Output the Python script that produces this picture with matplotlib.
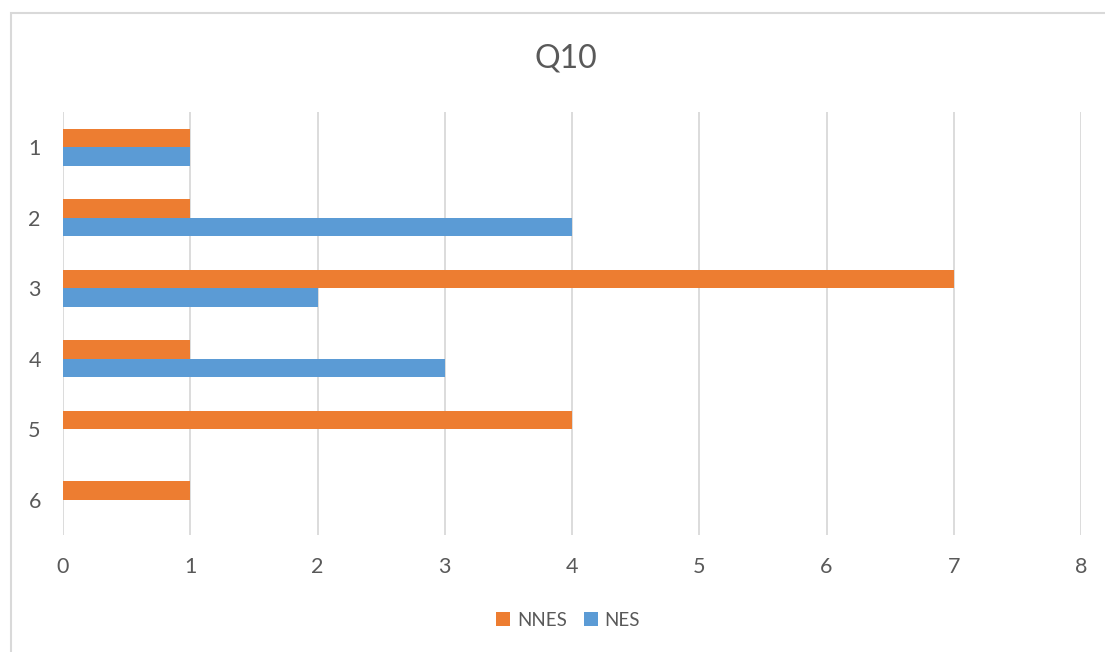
import matplotlib.pyplot as plt
import numpy as np
from matplotlib.patches import Rectangle

plt.rcParams['font.family'] = ['Lato', 'DejaVu Sans']

categories = ['1', '2', '3', '4', '5', '6']
nnes = [1, 1, 7, 1, 4, 1]
nes = [1, 4, 2, 3, 0, 0]
x_ticks = [0, 1, 2, 3, 4, 5, 6, 7, 8]

text_color = '#595959'
orange = '#ED7D31'
blue = '#5B9BD5'

fig = plt.figure(figsize=(11.05, 6.52), dpi=100)
ax = fig.add_axes([63 / 1105, 1 - 535 / 652, (1081 - 63) / 1105, (535 - 112) / 652])

# chart border (Excel-like)
fig.patches.append(Rectangle((11 / 1105, -0.1), 1.2, 1 - 13 / 652 + 0.1,
                             transform=fig.transFigure, fill=False,
                             edgecolor='#d9d9d9', linewidth=1.5))

y = np.arange(1, len(categories) + 1)
h = 0.262
ax.barh(y - h / 2, nnes, height=h, color=orange, label='NNES', zorder=3)
ax.barh(y + h / 2, nes, height=h, color=blue, label='NES', zorder=3)

ax.set_ylim(6.5, 0.5)
ax.set_xlim(0, 8)
ax.set_yticks(y)
ax.set_yticklabels(categories)
ax.set_xticks(x_ticks)
ax.tick_params(length=0, labelsize=15.5, labelcolor=text_color)
ax.tick_params(axis='x', pad=16)
ax.tick_params(axis='y', pad=16)
ax.grid(axis='x', color='#d9d9d9', linewidth=1.3, zorder=0)
for s in ax.spines.values():
    s.set_visible(False)

fig.text(0.512, 1 - 58 / 652, 'Q10', ha='center', va='center',
         fontsize=23, color=text_color)

fig.legend(loc='center', bbox_to_anchor=(0.514, 1 - 620 / 652), ncol=2,
           frameon=False, fontsize=13.5, labelcolor=text_color,
           handlelength=0.75, handleheight=0.75, handletextpad=0.37,
           columnspacing=0.9)

fig.savefig('out.png', dpi=100)
